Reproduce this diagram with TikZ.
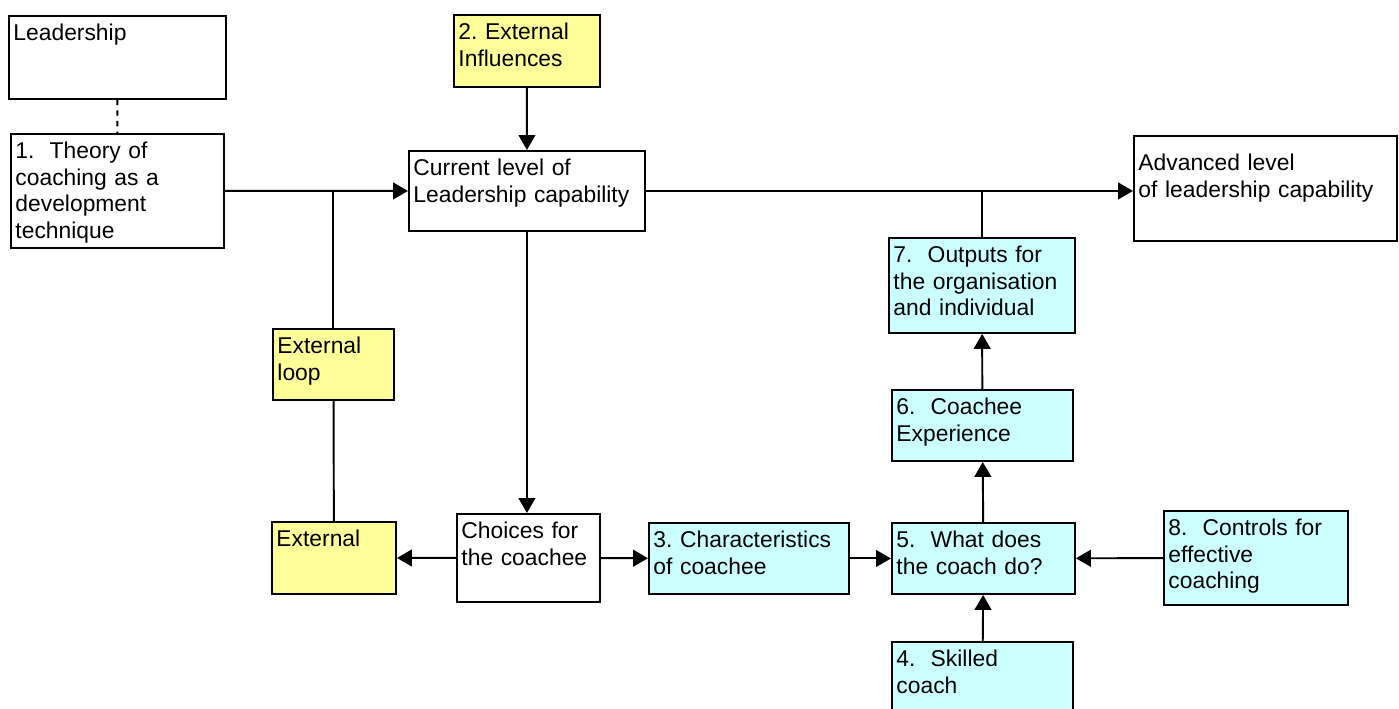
\documentclass[tikz,border=0pt]{standalone}
\usepackage{fontspec}
\setmainfont{Liberation Sans}
\usepackage{tikz}
\usetikzlibrary{arrows.meta,positioning}
\definecolor{extyellow}{HTML}{FFFF99}
\definecolor{stepcyan}{HTML}{CCFFFF}
\frenchspacing
\tikzset{
  bx/.style={draw, anchor=north west, align=left, inner xsep=0.09cm, inner ysep=0pt,
    text height=0.5cm, font=\fontsize{13}{15}\selectfont},
  ybx/.style={bx, fill=extyellow},
  cbx/.style={bx, fill=stepcyan},
  arr/.style={-{Triangle[length=8.5pt,width=9.5pt]}}
}
\begin{document}
\begin{tikzpicture}[x=0.02cm, y=-0.02cm, line width=1.1pt]
\useasboundingbox (0,0) rectangle (1399,709);
\clip (0,0) rectangle (1399,709);

\draw (8,15) node[bx, text width=4.16cm, text depth=1.16cm] (lead) {Leadership};
\draw (10,133) node[bx, text width=4.08cm, text depth=1.78cm] (theory) {1.\ \ Theory of\\coaching as a\\development\\technique};
\draw (453,14) node[ybx, text width=2.74cm, text depth=0.94cm] (infl) {2. External\\Influences};
\draw (408,150) node[bx, text width=4.54cm, text depth=1.10cm] (cur) {Current level of\\Leadership capability};
\draw (1133,135) node[bx, text width=5.08cm, text height=0.7cm, text depth=1.40cm] (adv) {Advanced level\\of leadership capability};
\draw (272,328) node[ybx, text width=2.24cm, text depth=0.92cm] (loop) {External\\loop};
\draw (271,521) node[ybx, text width=2.30cm, text depth=0.94cm] (ext) {External};
\draw (456,513) node[bx, text width=2.68cm, text depth=1.26cm] (choice) {Choices for\\the coachee};
\draw (648,522) node[cbx, text width=3.82cm, text depth=0.92cm] (charac) {3. Characteristics\\of coachee};
\draw (891,641) node[cbx, text width=3.44cm, text depth=0.92cm] (skill) {4.\ \ Skilled\\coach};
\draw (891,522) node[cbx, text width=3.48cm, text depth=0.92cm] (what) {5.\ \ What does\\the coach do?};
\draw (891,389) node[cbx, text width=3.44cm, text depth=0.92cm] (exper) {6.\ \ Coachee\\Experience};
\draw (888,237) node[cbx, text width=3.54cm, text depth=1.40cm] (outp) {7.\ \ Outputs for\\the organisation\\and individual};
\draw (1163,510) node[cbx, text width=3.50cm, text depth=1.38cm] (ctrl) {8.\ \ Controls for\\effective\\coaching};

\draw [dashed] (lead) -- (theory);
\draw [arr] (theory) -- (cur);
\draw (loop) -- (loop |- theory);
\draw (loop) -- (ext);
\draw [arr] (infl) -- (cur);
\draw [arr] (cur.east) -- (cur.east -| adv.west);
\draw (outp) -- (outp |- cur);
\draw [arr] (cur) -- (cur |- choice.north);
\draw [arr] (choice) -- (ext);
\draw [arr] (choice) -- (charac);
\draw [arr] (charac) -- (what);
\draw [arr] (ctrl) -- (what);
\draw [arr] (skill) -- (what);
\draw [arr] (what) -- (exper);
\draw [arr] (exper) -- (outp);
\end{tikzpicture}
\end{document}
